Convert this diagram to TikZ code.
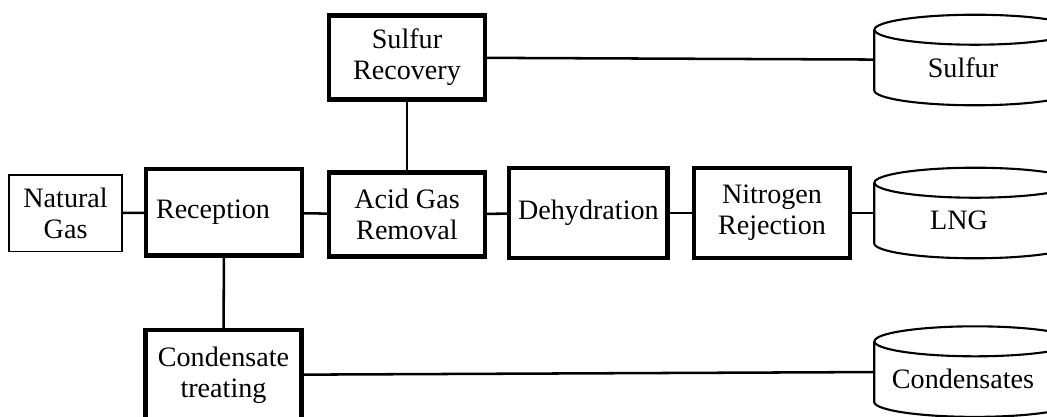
\documentclass[tikz,border=0pt]{standalone}
\usepackage{fontspec}
\setmainfont{Liberation Serif}

% storage tank outline round a named node
\newcommand{\drawtank}[1]{%
  \draw[tankline] ([yshift=-0.375cm]#1.north) ellipse [x radius=2.5125cm,y radius=0.375cm];
  \draw[tankline] ([yshift=-0.375cm]#1.north west) -- ([yshift=0.375cm]#1.south west)
    arc [start angle=180,end angle=360,x radius=2.5125cm,y radius=0.375cm]
    -- ([yshift=-0.375cm]#1.north east);
}

\begin{document}
\begin{tikzpicture}[
    font=\fontsize{20}{22}\selectfont,
    unit/.style={draw,line width=3.2pt,align=center,minimum width=3.89cm,minimum height=2.11cm,inner sep=2pt},
    feed/.style={draw,line width=1.2pt,align=center,minimum width=2.833cm,minimum height=1.908cm,inner sep=2pt},
    tank/.style={minimum width=5.025cm,minimum height=2.25cm,inner sep=0pt},
    tankline/.style={line width=1.5pt},
    pipe/.style={line width=1.8pt}]
    \path[use as bounding box,clip] (0,0) rectangle (26.175,-10.425);

    % feed and process units
    \node[feed] (natural) at (1.64,-5.33) {Natural\\Gas};
    \node[unit,minimum height=2.16cm] (reception) at (5.6,-5.31) {Reception\hspace*{0.55cm}};
    \node[unit] (sulfurrec) at (10.175,-1.4375) {Sulfur\\Recovery};
    \node[unit] (acid) at (10.175,-5.3625) {Acid Gas\\Removal};
    \node[unit,minimum width=3.96cm,minimum height=2.24cm] (dehyd) at (14.71,-5.325) {Dehydration};
    \node[unit,minimum height=2.24cm] (nitrogen) at (19.3,-5.325) {Nitrogen\\Rejection};
    \node[unit,minimum width=3.91cm,minimum height=2.24cm] (condtreat) at (5.5875,-9.375) {Condensate\\treating};

    % products
    \node[tank,label={[xshift=-0.3cm,yshift=-0.19cm]center:Sulfur}] (sulfur) at (24.375,-1.5) {};
    \node[tank,label={[xshift=-0.4cm,yshift=-0.19cm]center:LNG}] (lng) at (24.375,-5.325) {};
    \node[tank,label={[xshift=-0.3cm,yshift=-0.19cm]center:Condensates}] (condensates) at (24.375,-9.29) {};
    \drawtank{sulfur}
    \drawtank{lng}
    \drawtank{condensates}

    % connections
    \draw[pipe] (natural) -- (reception);
    \draw[pipe] (reception) -- (acid);
    \draw[pipe] (acid) -- (dehyd);
    \draw[pipe] (dehyd) -- (nitrogen);
    \draw[pipe] (nitrogen) -- (lng);
    \draw[pipe] (acid) -- (sulfurrec);
    \draw[pipe] (sulfurrec) -- (sulfur);
    \draw[pipe] (reception) -- (condtreat);
    \draw[pipe] (condtreat) -- (condensates);
\end{tikzpicture}
\end{document}
